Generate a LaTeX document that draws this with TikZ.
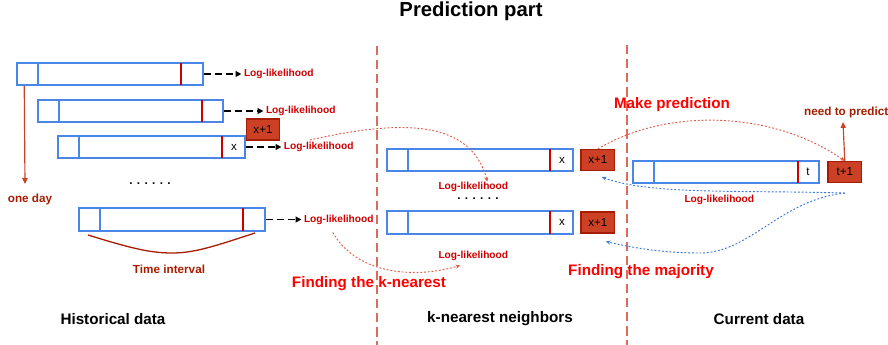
\documentclass[tikz,border=0pt]{standalone}
\usepackage{fontspec}
\setmainfont{Liberation Sans}
\usetikzlibrary{positioning, fit, calc, arrows.meta}
\definecolor{barblue}{HTML}{4A86E8}
\definecolor{cutred}{HTML}{CC0000}
\definecolor{boxred}{HTML}{CC4125}
\definecolor{boxedge}{HTML}{A61C00}
\definecolor{notered}{HTML}{A61C00}
\definecolor{sepred}{HTML}{DD6B5B}
\definecolor{dotred}{HTML}{DC5A46}
\definecolor{dotblue}{HTML}{3C78D8}
\tikzset{
    bar/.style={draw=barblue, line width=1.3pt, inner sep=0pt},
    bluecut/.style={barblue, line width=0.9pt},
    redcut/.style={cutred, line width=0.9pt},
    nextval/.style={draw=boxedge, fill=boxred, line width=1.2pt, minimum width=1.0cm, minimum height=0.62cm, inner sep=0pt, font=\fontsize{9.9}{10}\selectfont},
    cell/.style={inner sep=0pt, font=\fontsize{9.9}{10}\selectfont},
    loglik/.style={inner sep=0pt, text=cutred, font=\fontsize{8.7}{9}\selectfont\bfseries},
    remark/.style={inner sep=0pt, text=notered, font=\fontsize{10}{11}\selectfont\bfseries},
    stage/.style={inner sep=0pt, text=red, font=\fontsize{13}{14}\selectfont\bfseries},
    header/.style={inner sep=0pt, font=\fontsize{13}{14}\selectfont\bfseries},
    moredots/.style={inner sep=0pt, font=\fontsize{10}{10}\selectfont\bfseries},
    scorearrow/.style={-{Triangle[length=5pt,width=5pt]}, line width=1.1pt, dash pattern=on 6pt off 3.5pt},
    redarrow/.style={-{Triangle[length=5pt,width=4.5pt]}, boxred, line width=1pt},
    reddots/.style={-{Stealth[length=4pt,width=3.5pt]}, dotred, line width=0.8pt, dash pattern=on 1.6pt off 1.6pt},
    bluedots/.style={-{Stealth[length=4pt,width=3.5pt]}, dotblue, line width=0.8pt, dash pattern=on 1.6pt off 1.6pt},
    divider/.style={sepred, line width=0.9pt, dash pattern=on 8pt off 4pt},
}
\begin{document}
\begin{tikzpicture}[x=0.03cm, y=-0.03cm]
\useasboundingbox (0,0) rectangle (888,345);
\node[font=\fontsize{17.3}{18}\selectfont\bfseries] (title) at (471,11) {Prediction part};

% the two dashed separators
\draw[divider] (377,46) -- (377,345);
\draw[divider] (627,45) -- (627,345);

% historical data
\node[bar, fit={(17,63) (203,85)}] (h1) {};
\node[bar, fit={(38,100) (223,122)}] (h2) {};
\node[bar, fit={(58,136) (245,158)}] (h3) {};
\node[bar, fit={(79,208) (265,231)}] (h4) {};
\draw[bluecut] (38,63) -- (38,85);
\draw[redcut] (181,63) -- (181,85);
\draw[bluecut] (59,100) -- (59,122);
\draw[redcut] (202,100) -- (202,122);
\draw[bluecut] (79,136) -- (79,158);
\draw[redcut] (222,136) -- (222,158);
\draw[bluecut] (100,208) -- (100,231);
\draw[redcut] (243,208) -- (243,231);
\node[cell] (x3) at (234,147) {x};
\node[nextval] (xp3) at (263,129.5) {x+1};

\node[loglik, right=1.2cm of h1] (ll1) {Log-likelihood};
\node[loglik, right=1.26cm of h2] (ll2) {Log-likelihood};
\node[loglik, right=1.14cm of h3] (ll3) {Log-likelihood};
\node[loglik, right=1.14cm of h4] (ll4) {Log-likelihood};
\draw[scorearrow] (h1.east) -- ([xshift=-2pt]ll1.west);
\draw[scorearrow] (h2.east) -- ([xshift=-2pt]ll2.west);
\draw[scorearrow] (h3.east) -- ([xshift=-2pt]ll3.west);
\draw[scorearrow] (h4.east) -- ([xshift=-2pt]ll4.west);

\node[remark] (day) at (30,199) {one day};
\coordinate (dayend) at (25,184);
\draw[redarrow] ($(h1.south west)+(8,0)$) -- (dayend);
\node[moredots] (more1) at (150,184) {. . . . . .};

\draw[notered, line width=1.1pt] (88,235) .. controls (130,248) and (150,253) .. (172,253)
    .. controls (195,253) and (215,246) .. (255,233);
\node[remark] (span) at (169,269) {Time interval};

% k-nearest neighbors
\node[bar, fit={(387,149) (573,171)}] (k1) {};
\node[bar, fit={(387,211) (573,234)}] (k2) {};
\draw[bluecut] (408,149) -- (408,171);
\draw[redcut] (550,149) -- (550,171);
\draw[bluecut] (408,211) -- (408,234);
\draw[redcut] (550,211) -- (550,234);
\node[cell] (x5) at (562,160) {x};
\node[cell] (x6) at (562,222.5) {x};
\node[nextval, right=0.2cm of k1] (xp5) {x+1};
\node[nextval, right=0.2cm of k2] (xp6) {x+1};
\node[loglik, below=0.3cm of k1, xshift=-0.2cm] (ll5) {Log-likelihood};
\node[moredots] (more2) at (478,198.5) {. . . . . .};
\node[loglik, below=0.47cm of k2, xshift=-0.2cm] (ll6) {Log-likelihood};

% current data
\node[bar, fit={(633,161) (819,183)}] (c1) {};
\draw[bluecut] (654,161) -- (654,183);
\draw[redcut] (798,161) -- (798,183);
\node[cell] (t1) at (808,172) {t};
\node[nextval, right=0.23cm of c1] (tp1) {t+1};
\node[loglik, below=0.32cm of c1, xshift=-0.2cm] (ll7) {Log-likelihood};
\node[remark, anchor=west] (need) at (804,112) {need to predict};
\coordinate (needtip) at (843,122);
\draw[redarrow] (tp1.north) -- (needtip);

% dotted links
\draw[reddots] ($(ll3.north)+(-9,-2)$) .. controls (390,122) and (470,115) .. ($(ll5.north)+(14,0)$);
\draw[reddots] ($(ll4.south)+(-6,8)$) .. controls (355,272) and (410,280) .. ($(ll6.south west)+(22,5)$);
\draw[reddots] (xp5.north) .. controls (664,109) and (770,109) .. (tp1.north);
\coordinate (back) at ($(tp1.south)+(0,10)$);
\draw[bluedots] (back) .. controls (740,190) and (650,195) .. ($(xp5.south)+(4,6)$);
\draw[bluedots] (back) .. controls (780,200) and (750,253) .. (700,253)
    .. controls (660,253) and (630,247) .. ($(xp6.south)+(8,8)$);

\node[stage] (findk) at (369,284) {Finding the k-nearest};
\node[stage] (makep) at (672,105) {Make prediction};
\node[stage] (findm) at (641,272) {Finding the majority};

\node[header] (hist) at (113,319) {Historical data};
\node[header] (knn) at (500,319) {k-nearest neighbors};
\node[header] (cur) at (759,319) {Current data};
\end{tikzpicture}
\end{document}
